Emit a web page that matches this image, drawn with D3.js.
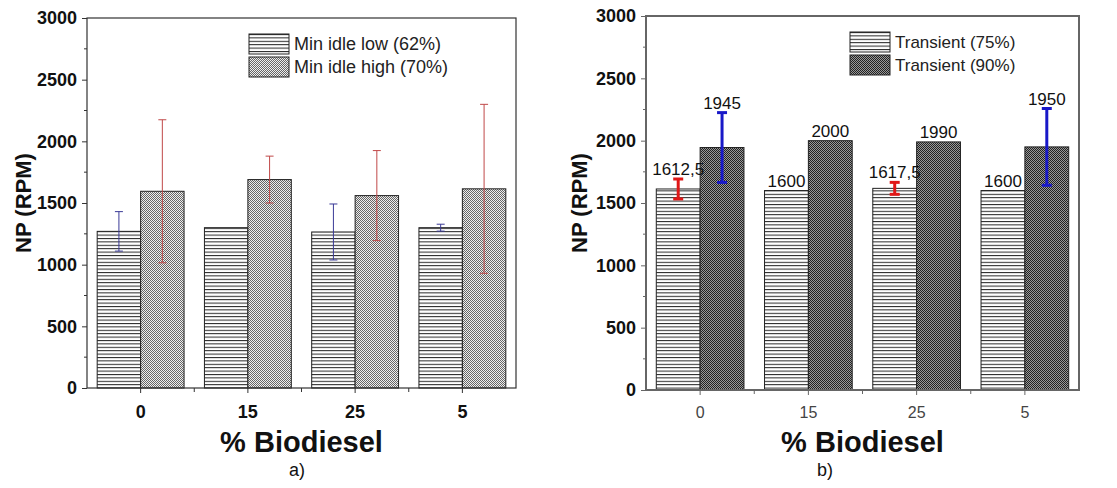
<!DOCTYPE html>
<html>
<head>
<meta charset="utf-8">
<script src="https://cdn.jsdelivr.net/npm/d3@7"></script>
<style>
  body { margin: 0; background: #fff; }
  svg { display: block; font-family: Arial, "Liberation Sans", sans-serif; }
</style>
</head>
<body>
<svg id="chart" width="1117" height="488"></svg>
<script>
// categories on the x axis (% biodiesel)
var categories = ["0", "15", "25", "5"];
var yTicks = [0, 500, 1000, 1500, 2000, 2500, 3000];

// panel a)
var idleLowLabel = "Min idle low (62%)";
var idleLow = [1270, 1300, 1265, 1300];
var idleLowErr = [160, 0, 227, 28];
var idleHighLabel = "Min idle high (70%)";
var idleHigh = [1595, 1690, 1560, 1615];
var idleHighErr = [580, 190, 365, 685];

// panel b)
var transLowLabel = "Transient (75%)";
var transLow = [1612.5, 1600, 1617.5, 1600];
var transLowErr = [80, 0, 48, 0];
var transHighLabel = "Transient (90%)";
var transHigh = [1945, 2000, 1990, 1950];
var transHighErr = [280, 0, 0, 308];

var svg = d3.select("#chart");
var defs = svg.append("defs");

// horizontal stripes
var p = defs.append("pattern").attr("id", "stripes").attr("patternUnits", "userSpaceOnUse")
    .attr("width", 8).attr("height", 3.4);
p.append("rect").attr("width", 8).attr("height", 3.4).attr("fill", "#fff");
p.append("rect").attr("y", 0).attr("width", 8).attr("height", 1).attr("fill", "#222");

// checker patterns
function checker(id, c1, c2) {
    var pt = defs.append("pattern").attr("id", id).attr("patternUnits", "userSpaceOnUse")
        .attr("width", 2).attr("height", 2);
    pt.append("rect").attr("width", 2).attr("height", 2).attr("fill", c1);
    pt.append("rect").attr("width", 1).attr("height", 1).attr("fill", c2);
    pt.append("rect").attr("x", 1).attr("y", 1).attr("width", 1).attr("height", 1).attr("fill", c2);
}
checker("checkLight", "#eee", "#666");
checker("checkDark", "#999", "#222");

function fmt(v) { return String(v).replace(".", ","); }

function drawPanel(cfg) {
    var g = svg.append("g");
    var x = d3.scaleBand().domain(categories).range([cfg.left, cfg.right]).paddingInner(0.19).paddingOuter(0.095);
    var inner = d3.scaleBand().domain([0, 1]).range([0, x.bandwidth()]);
    var y = d3.scaleLinear().domain([0, 3000]).range([cfg.bottom, cfg.top]);

    var series = [
        { vals: cfg.low, err: cfg.lowErr, fill: "url(#stripes)", errColor: cfg.lowErrColor },
        { vals: cfg.high, err: cfg.highErr, fill: cfg.highFill, errColor: cfg.highErrColor }
    ];

    series.forEach(function (s, si) {
        g.selectAll(null).data(s.vals).enter().append("rect")
            .attr("x", function (d, i) { return x(categories[i]) + inner(si); })
            .attr("y", function (d) { return y(d); })
            .attr("width", inner.bandwidth())
            .attr("height", function (d) { return y(0) - y(d); })
            .attr("fill", s.fill)
            .attr("stroke", "#222").attr("stroke-width", 1);
    });

    // error bars
    series.forEach(function (s, si) {
        s.vals.forEach(function (v, i) {
            var e = s.err[i];
            if (!e) return;
            var cx = x(categories[i]) + inner(si) + inner.bandwidth() / 2;
            var eg = g.append("g").attr("stroke", s.errColor).attr("stroke-width", cfg.errWidth);
            eg.append("line").attr("x1", cx).attr("x2", cx).attr("y1", y(v + e)).attr("y2", y(v - e));
            eg.append("line").attr("x1", cx - cfg.cap).attr("x2", cx + cfg.cap).attr("y1", y(v + e)).attr("y2", y(v + e));
            eg.append("line").attr("x1", cx - cfg.cap).attr("x2", cx + cfg.cap).attr("y1", y(v - e)).attr("y2", y(v - e));
        });
    });

    // value labels
    if (cfg.valueLabels) {
        series.forEach(function (s, si) {
            g.selectAll(null).data(s.vals).enter().append("text")
                .attr("x", function (d, i) { return x(categories[i]) + inner(si) + inner.bandwidth() / 2; })
                .attr("y", function (d, i) { return y(d + s.err[i]) - 4; })
                .attr("text-anchor", "middle")
                .attr("font-size", 17).attr("fill", "#111")
                .text(function (d) { return fmt(d); });
        });
    }

    // frame
    g.append("rect").attr("x", cfg.left).attr("y", cfg.top)
        .attr("width", cfg.right - cfg.left).attr("height", cfg.bottom - cfg.top)
        .attr("fill", "none").attr("stroke", cfg.frameColor).attr("stroke-width", cfg.frameWidth);

    // y axis
    var yAxis = d3.axisLeft(y).tickValues(yTicks).tickFormat(d3.format("d")).tickSize(5).tickPadding(5);
    var ya = g.append("g").attr("transform", "translate(" + cfg.left + ",0)").call(yAxis);
    ya.select(".domain").remove();
    ya.selectAll("line").attr("stroke", cfg.frameColor);
    ya.selectAll("text").attr("font-size", 18).attr("font-weight", "bold").attr("fill", "#111")
        .attr("font-family", "Arial, 'Liberation Sans', sans-serif");
    var minor = d3.range(250, 3000, 500);
    g.selectAll(null).data(minor).enter().append("line")
        .attr("x1", cfg.left - 3).attr("x2", cfg.left)
        .attr("y1", function (d) { return y(d); }).attr("y2", function (d) { return y(d); })
        .attr("stroke", cfg.frameColor);

    // x axis
    var xAxis = d3.axisBottom(x).tickSize(5).tickPadding(12);
    var xa = g.append("g").attr("transform", "translate(0," + cfg.bottom + ")").call(xAxis);
    xa.select(".domain").remove();
    xa.selectAll("line").attr("stroke", cfg.frameColor);
    xa.selectAll("text").attr("font-size", cfg.xTickBold ? 18 : 16)
        .attr("font-weight", cfg.xTickBold ? "bold" : "normal")
        .attr("fill", cfg.xTickBold ? "#111" : "#444")
        .attr("font-family", "Arial, 'Liberation Sans', sans-serif");
    var bounds = categories.slice(1).map(function (c) { return x(c) - x.step() * x.paddingInner() / 2; });
    g.selectAll(null).data(bounds).enter().append("line")
        .attr("x1", function (d) { return d; }).attr("x2", function (d) { return d; })
        .attr("y1", cfg.bottom).attr("y2", cfg.bottom + 4)
        .attr("stroke", cfg.frameColor);

    // axis titles
    g.append("text")
        .attr("transform", "translate(" + cfg.yTitleX + "," + ((cfg.top + cfg.bottom) / 2) + ") rotate(-90)")
        .attr("text-anchor", "middle").attr("font-size", 22).attr("font-weight", "bold")
        .attr("fill", "#111").text("NP (RPM)");
    var mid = (cfg.left + cfg.right) / 2;
    g.append("text").attr("x", mid).attr("y", 452).attr("text-anchor", "middle")
        .attr("font-size", 29).attr("font-weight", "bold").attr("fill", "#111").text("% Biodiesel");
    g.append("text").attr("x", cfg.tagX).attr("y", 476).attr("text-anchor", "middle")
        .attr("font-size", 18).attr("fill", "#111").text(cfg.tag);

    // legend
    var leg = g.append("g").attr("transform", "translate(" + cfg.legX + "," + cfg.legY + ")");
    [[cfg.lowLabel, "url(#stripes)"], [cfg.highLabel, cfg.highFill]].forEach(function (it, i) {
        leg.append("rect").attr("x", 0).attr("y", i * 23).attr("width", 40).attr("height", 20)
            .attr("fill", it[1]).attr("stroke", "#222");
        leg.append("text").attr("x", 45).attr("y", i * 23 + 16).attr("font-size", cfg.legFont)
            .attr("fill", "#222").text(it[0]);
    });
}

drawPanel({
    left: 87, right: 516, top: 18, bottom: 388,
    low: idleLow, lowErr: idleLowErr, high: idleHigh, highErr: idleHighErr,
    lowLabel: idleLowLabel, highLabel: idleHighLabel,
    highFill: "url(#checkLight)",
    lowErrColor: "#3a3a96", highErrColor: "#c04848", errWidth: 1, cap: 4,
    valueLabels: false, frameColor: "#333", frameWidth: 1.2, xTickBold: true,
    yTitleX: 31, tagX: 297, tag: "a)", legX: 249, legY: 34, legFont: 18
});

drawPanel({
    left: 646, right: 1079, top: 16, bottom: 390,
    low: transLow, lowErr: transLowErr, high: transHigh, highErr: transHighErr,
    lowLabel: transLowLabel, highLabel: transHighLabel,
    highFill: "url(#checkDark)",
    lowErrColor: "#e01818", highErrColor: "#1818c8", errWidth: 3, cap: 5,
    valueLabels: true, frameColor: "#666", frameWidth: 2, xTickBold: false,
    yTitleX: 587, tagX: 825, tag: "b)", legX: 850, legY: 32, legFont: 17
});
</script>
</body>
</html>
